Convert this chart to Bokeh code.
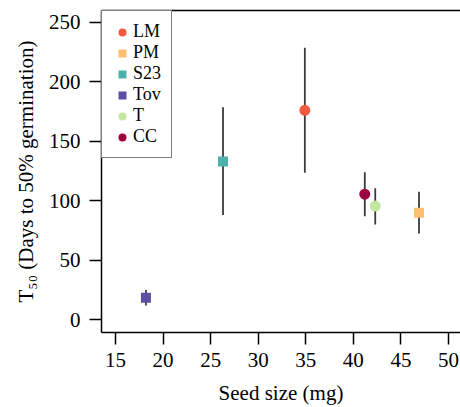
from bokeh.plotting import figure
from bokeh.models import ColumnDataSource, LinearAxis, FixedTicker, Range1d
from bokeh.embed import file_html
from bokeh.resources import INLINE

# ---- data ----
species = ["LM", "PM", "S23", "Tov", "T", "CC"]
seed_size = [34.9, 46.9, 26.3, 18.2, 42.3, 41.2]
t50 = [176.0, 90.0, 133.0, 18.5, 95.5, 105.5]
t50_lower = [123.6, 72.5, 88.0, 12.0, 80.0, 87.0]
t50_upper = [228.5, 107.5, 178.5, 25.0, 110.5, 124.0]
marker_shape = ["circle", "square", "square", "square", "circle", "circle"]
marker_color = ["#F25A3F", "#FDBF6F", "#4BB3A9", "#5E4FA2", "#C3E6A0", "#9E0142"]
marker_size = [11, 10, 10, 10, 11, 11]

x_ticks = [15, 20, 25, 30, 35, 40, 45, 50]
y_ticks = [0, 50, 100, 150, 200, 250]

FONT = "Liberation Serif"

src = ColumnDataSource(dict(
    species=species, x=seed_size, y=t50, lo=t50_lower, hi=t50_upper,
    marker=marker_shape, color=marker_color, size=marker_size,
))

p = figure(
    width=460, height=407,
    x_range=Range1d(13.53, 51.26), y_range=Range1d(-10.67, 259.83),
    output_backend="svg", toolbar_location=None,
    min_border_left=101, min_border_right=0, min_border_top=10, min_border_bottom=75,
    background_fill_color="white", border_fill_color="white",
)
p.outline_line_color = None
p.grid.visible = False

# error bars
p.segment(x0="x", y0="lo", x1="x", y1="hi", source=src,
          line_color="#3a3a3a", line_width=1.8)

# points
p.scatter(x="x", y="y", marker="marker", size="size", source=src,
          fill_color="color", line_color=None, legend_field="species")

# axes styling
for ax, ticks in ((p.xaxis[0], x_ticks), (p.yaxis[0], y_ticks)):
    ax.ticker = FixedTicker(ticks=ticks)
    ax.minor_tick_line_color = None
    ax.major_tick_out = 12
    ax.major_tick_in = 0
    ax.major_tick_line_color = "black"
    ax.major_tick_line_width = 1.5
    ax.axis_line_color = "black"
    ax.axis_line_width = 1.5
    ax.major_label_text_font = FONT
    ax.major_label_text_font_size = "21px"
    ax.major_label_text_color = "black"
    ax.axis_label_text_font = FONT
    ax.axis_label_text_font_size = "21px"
    ax.axis_label_text_font_style = "normal"
    ax.axis_label_text_color = "black"

p.xaxis[0].axis_label = "Seed size (mg)"
p.xaxis[0].major_label_standoff = 8
p.xaxis[0].axis_label_standoff = 11
p.yaxis[0].axis_label = "T\u2085\u2080 (Days to 50% germination)"
p.yaxis[0].major_label_standoff = 9
p.yaxis[0].axis_label_standoff = 8
p.yaxis[0].major_label_orientation = "horizontal"

# top border of the plot box
top = LinearAxis(ticker=FixedTicker(ticks=[]), major_tick_out=0, major_tick_in=0,
                 major_label_text_font_size="0px", axis_line_color="black",
                 axis_line_width=1.5, minor_tick_line_color=None)
p.add_layout(top, "above")

# legend
lg = p.legend[0]
lg.location = "top_left"
lg.margin = 0
lg.padding = 10
lg.spacing = 0
lg.glyph_width = 20
lg.glyph_height = 20
lg.label_height = 20
lg.label_standoff = 1
lg.label_text_font = FONT
lg.label_text_font_size = "18px"
lg.label_text_color = "black"
lg.border_line_color = "black"
lg.border_line_width = 1.5
lg.background_fill_color = "white"
lg.background_fill_alpha = 1.0

open("out.html", "w").write(file_html(p, INLINE))
